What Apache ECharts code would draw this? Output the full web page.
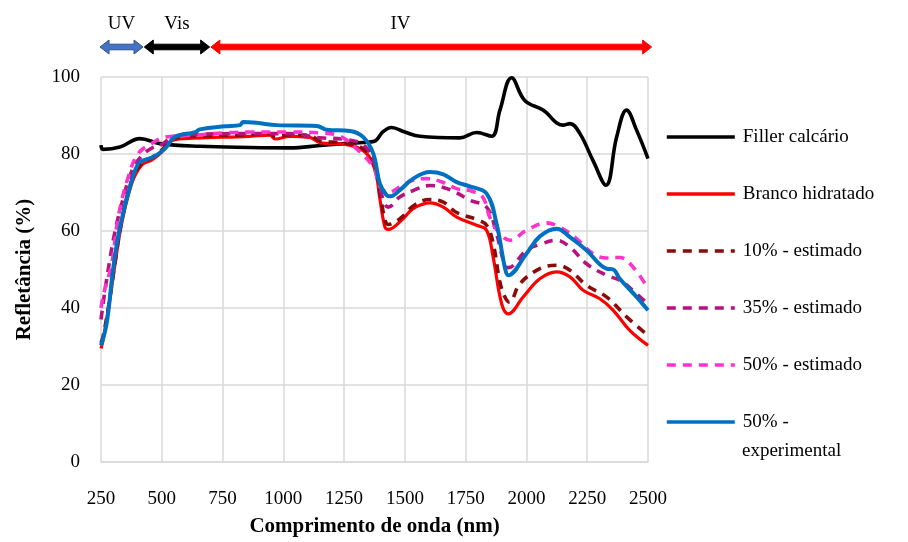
<!DOCTYPE html>
<html>
<head>
<meta charset="utf-8">
<script src="https://cdn.jsdelivr.net/npm/echarts@6/dist/echarts.min.js"></script>
<style>
  html, body { margin: 0; padding: 0; background: #fff; }
  #chart { width: 908px; height: 542px; }
</style>
</head>
<body>
<div id="chart"></div>
<script>
// Reflectance spectra (%) against wavelength (nm)
const fillerNm  = [250, 258, 328, 410, 493, 657, 863, 1027, 1151, 1253, 1330, 1375, 1410, 1445, 1500, 1562, 1726, 1795, 1857, 1891, 1939, 1993, 2068, 2150, 2179, 2220, 2273, 2327, 2371, 2412, 2453, 2500];
const fillerVal = [82.3, 81.2, 81.8, 84.0, 82.7, 82.0, 81.7, 81.6, 82.2, 82.7, 83.0, 83.3, 85.8, 86.9, 85.7, 84.6, 84.2, 85.6, 84.6, 91.4, 99.8, 93.9, 91.4, 87.5, 87.9, 85.3, 78.4, 71.9, 84.4, 91.4, 86.2, 78.8];

const brancoNm  = [250, 258, 280, 308, 335, 376, 417, 458, 500, 541, 595, 863, 945, 966, 1027, 1109, 1151, 1253, 1336, 1377, 1398, 1418, 1431, 1486, 1534, 1603, 1658, 1713, 1795, 1836, 1863, 1898, 1925, 1987, 2055, 2124, 2179, 2233, 2302, 2357, 2425, 2500];
const brancoVal = [29.5, 31.5, 39.5, 51.5, 61.9, 72.3, 77.1, 78.4, 80.5, 83.4, 84.0, 84.6, 84.9, 83.9, 84.6, 84.3, 82.9, 82.5, 80.5, 75.8, 68.0, 61.0, 60.4, 62.8, 65.8, 67.3, 66.2, 63.6, 61.5, 60.2, 53.2, 41.1, 38.5, 42.9, 47.6, 49.4, 48.1, 44.6, 42.4, 39.4, 34.2, 30.3];

const est10Nm  = [250, 258, 280, 308, 335, 376, 417, 458, 500, 541, 595, 863, 945, 966, 1027, 1109, 1151, 1253, 1336, 1377, 1398, 1418, 1431, 1486, 1534, 1603, 1658, 1713, 1795, 1836, 1863, 1890, 1911, 1930, 1973, 2055, 2124, 2179, 2247, 2329, 2412, 2500];
const est10Val = [31.0, 32.5, 40.0, 52.0, 62.5, 73.0, 77.5, 79.0, 81.0, 83.8, 84.5, 85.0, 85.3, 84.5, 85.0, 84.8, 83.4, 82.8, 81.0, 76.5, 69.5, 63.0, 61.7, 63.5, 66.5, 68.2, 67.5, 64.8, 63.0, 61.5, 56.8, 47.0, 42.9, 41.5, 46.3, 50.2, 51.1, 49.8, 45.9, 42.9, 37.7, 32.9];

const est35Nm  = [250, 265, 285, 308, 335, 376, 417, 458, 500, 541, 595, 863, 1027, 1151, 1253, 1336, 1377, 1398, 1418, 1431, 1479, 1534, 1603, 1658, 1713, 1767, 1836, 1877, 1911, 1925, 2000, 2055, 2124, 2179, 2247, 2329, 2384, 2430, 2500];
const est35Val = [37.0, 44.0, 52.0, 60.0, 67.0, 75.5, 79.5, 81.5, 82.5, 84.3, 85.0, 85.3, 85.3, 84.2, 83.8, 82.0, 77.0, 71.0, 67.0, 66.2, 68.8, 70.5, 71.8, 71.3, 69.9, 68.0, 66.2, 59.3, 51.1, 50.5, 55.0, 56.5, 57.6, 55.8, 51.5, 48.5, 47.2, 45.0, 41.0];

const est50Nm  = [250, 262, 294, 321, 362, 403, 458, 513, 637, 760, 863, 1027, 1151, 1233, 1294, 1370, 1398, 1431, 1480, 1530, 1589, 1650, 1713, 1767, 1820, 1849, 1891, 1932, 2000, 2082, 2137, 2206, 2274, 2330, 2384, 2439, 2500];
const est50Val = [40.0, 44.0, 51.5, 63.6, 74.0, 80.1, 82.7, 84.4, 84.9, 85.5, 85.7, 85.7, 85.5, 84.6, 81.8, 76.6, 71.5, 70.0, 71.5, 73.1, 73.6, 72.8, 71.0, 70.5, 68.8, 63.6, 59.3, 57.6, 60.2, 62.1, 61.0, 58.0, 54.1, 53.0, 53.1, 50.6, 45.0];

const expNm  = [250, 273, 301, 328, 369, 403, 431, 465, 513, 554, 637, 657, 760, 822, 834, 890, 972, 1137, 1178, 1274, 1329, 1370, 1397, 1425, 1440, 1479, 1534, 1603, 1658, 1713, 1767, 1836, 1877, 1911, 1925, 2000, 2055, 2124, 2179, 2247, 2329, 2357, 2384, 2453, 2500];
const expVal = [30.3, 35.9, 50.6, 61.0, 71.4, 77.5, 78.5, 79.2, 81.4, 84.4, 85.7, 86.4, 87.2, 87.5, 88.3, 88.1, 87.5, 87.3, 86.3, 86.0, 84.4, 80.1, 72.3, 69.3, 69.0, 70.6, 73.6, 75.3, 74.7, 72.7, 71.6, 69.7, 61.9, 50.6, 48.5, 54.1, 58.6, 60.6, 58.4, 55.0, 50.2, 50.0, 47.6, 42.9, 39.4];

const seriesNames = ['Filler calcário', 'Branco hidratado', '10% - estimado', '35% - estimado', '50% - estimado', '50% - experimental'];

const xTicks = { min: 250, max: 2500, step: 250 };
const yTicks = { min: 0, max: 100, step: 20 };

// Spectral bands shown above the plot
const bandNames = ['UV', 'Vis', 'IV'];
const bandStart = [246, 428, 702];
const bandEnd   = [423, 697, 2515];

const FONT = '"Liberation Serif", "Times New Roman", serif';

function pairs(xs, ys) { return xs.map((x, i) => [x, ys[i]]); }

const styles = [
  { color: '#000000', width: 3.6, type: 'solid' },
  { color: '#FF0000', width: 3.2, type: 'solid' },
  { color: '#8B0A0A', width: 3.6, type: [9, 7] },
  { color: '#B8127E', width: 3.6, type: [9, 7] },
  { color: '#FF33CC', width: 3.6, type: [9, 7] },
  { color: '#0070C0', width: 4,   type: 'solid' }
];
const dataSets = [
  pairs(fillerNm, fillerVal),
  pairs(brancoNm, brancoVal),
  pairs(est10Nm, est10Val),
  pairs(est35Nm, est35Val),
  pairs(est50Nm, est50Val),
  pairs(expNm, expVal)
];

const chart = echarts.init(document.getElementById('chart'), null, { renderer: 'canvas' });

const option = {
  animation: false,
  backgroundColor: '#ffffff',
  grid: { left: 101, right: 260, top: 77, bottom: 80, containLabel: false },
  xAxis: {
    type: 'value', min: xTicks.min, max: xTicks.max, interval: xTicks.step,
    name: 'Comprimento de onda (nm)', nameLocation: 'middle', nameGap: 54,
    nameTextStyle: { fontFamily: FONT, fontSize: 21, fontWeight: 'bold', color: '#000' },
    axisLine: { show: true, lineStyle: { color: '#d9d9d9', width: 1.5 } },
    axisTick: { show: false },
    axisLabel: { fontFamily: FONT, fontSize: 19, color: '#000', margin: 28, formatter: v => String(v) },
    splitLine: { show: true, lineStyle: { color: '#d9d9d9', width: 1.5 } }
  },
  yAxis: {
    type: 'value', min: yTicks.min, max: yTicks.max, interval: yTicks.step,
    name: 'Refletância (%)', nameLocation: 'middle', nameGap: 66,
    nameTextStyle: { fontFamily: FONT, fontSize: 21, fontWeight: 'bold', color: '#000' },
    axisLine: { show: false },
    axisTick: { show: false },
    axisLabel: { fontFamily: FONT, fontSize: 19, color: '#000', margin: 21, formatter: v => String(v) },
    splitLine: { show: true, lineStyle: { color: '#d9d9d9', width: 1.5 } }
  },
  legend: {
    orient: 'vertical', left: 660, top: 121,
    itemWidth: 68, itemHeight: 14, itemGap: 35,
    itemStyle: { opacity: 0 },
    lineStyle: { width: 3.6 },
    textStyle: { fontFamily: FONT, fontSize: 19, color: '#000', lineHeight: 22, padding: [0, 0, 0, 3] },
    formatter: name => (name === '50% - experimental' ? '50% -' : name),
    data: seriesNames
  },
  series: seriesNames.map((name, i) => ({
    name,
    type: 'line',
    data: dataSets[i],
    smooth: 0.4,
    symbol: 'none',
    showSymbol: false,
    clip: true,
    lineStyle: { color: styles[i].color, width: styles[i].width, type: styles[i].type, cap: 'butt' },
    itemStyle: { color: styles[i].color }
  }))
};

chart.setOption(option);

// Band arrows and labels, positioned through the x axis scale
function arrowPoints(x1, x2, y) {
  const sh = 2.8, hh = 7, hl = 9;
  return [
    [x1, y], [x1 + hl, y - hh], [x1 + hl, y - sh], [x2 - hl, y - sh],
    [x2 - hl, y - hh], [x2, y], [x2 - hl, y + hh], [x2 - hl, y + sh],
    [x1 + hl, y + sh], [x1 + hl, y + hh]
  ];
}
const bandFill   = ['#4472C4', '#000000', '#FF0000'];
const bandStroke = ['#2F528F', '#000000', '#FF0000'];
const labelAt    = [0.5, 0.5, 0.43];
const arrowY = 47;
const graphics = [];
bandNames.forEach((b, i) => {
  const x1 = chart.convertToPixel({ xAxisIndex: 0 }, bandStart[i]);
  const x2 = chart.convertToPixel({ xAxisIndex: 0 }, bandEnd[i]);
  graphics.push({
    type: 'polygon', shape: { points: arrowPoints(x1, x2, arrowY) },
    style: { fill: bandFill[i], stroke: bandStroke[i], lineWidth: 1 }, silent: true
  });
  graphics.push({
    type: 'text', x: x1 + (x2 - x1) * labelAt[i], y: 24,
    style: { text: b, fontFamily: FONT, fontSize: 19, fill: '#000', align: 'center', verticalAlign: 'middle' },
    silent: true
  });
});
// second line of the last legend entry
graphics.push({
  type: 'text', left: 742, top: 442,
  style: { text: 'experimental', fontFamily: FONT, fontSize: 19, fill: '#000' }, silent: true
});
chart.setOption({ graphic: graphics });
</script>
</body>
</html>
